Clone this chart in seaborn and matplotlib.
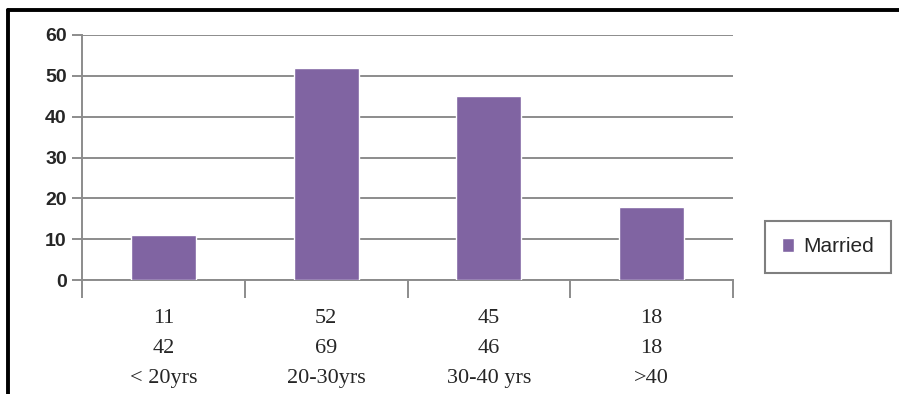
import matplotlib
matplotlib.use("Agg")
import matplotlib.pyplot as plt
import matplotlib.lines as mlines
import pandas as pd
import seaborn as sns

# data
groups = ['< 20yrs', '20-30yrs', '30-40 yrs', '>40']
married = [11, 52, 45, 18]
row2 = [42, 69, 46, 18]
series_name = 'Married'

df = pd.DataFrame({'group': groups, 'count': married})

sns.set_style('white')
fig = plt.figure(figsize=(8.99, 3.94), dpi=100)
ax = fig.add_axes([0.0912, 0.2893, 0.7242, 0.6219])

sns.barplot(data=df, x='group', y='count', color='#8064A2', width=0.4,
            saturation=1, ax=ax, label=series_name, zorder=3)

ax.set_ylim(0, 60)
ax.set_yticks(range(0, 61, 10))
ax.set_xlim(-0.5, len(groups) - 0.5)
ax.yaxis.grid(True, color='#8c8c8c', linewidth=1.4, zorder=0)
for s in ['top', 'right']:
    ax.spines[s].set_visible(False)
ax.spines['left'].set_color('#8c8c8c')
ax.spines['left'].set_linewidth(1.4)
ax.spines['bottom'].set_color('#8c8c8c')
ax.spines['bottom'].set_linewidth(1.4)

ax.tick_params(axis='y', which='major', left=True, length=7, width=1.4,
               color='#8c8c8c', pad=4)
for t in ax.get_yticklabels():
    t.set_fontfamily('Liberation Sans')
    t.set_fontweight('bold')
    t.set_fontsize(14)
    t.set_color('#262626')

# category labels (three lines) under each bar, boundary ticks between
labels = [f'{a}\n{b}\n{c}' for a, b, c in zip(married, row2, groups)]
ax.set_xticks(range(len(groups)))
ax.set_xticklabels(labels, fontfamily='Liberation Serif', fontsize=16,
                   linespacing=1.78)
ax.tick_params(axis='x', which='major', length=0, pad=21)
ax.set_xticks([i - 0.5 for i in range(len(groups) + 1)], minor=True)
ax.tick_params(axis='x', which='minor', bottom=True, length=13, width=1.4,
               color='#8c8c8c')
ax.set_xlabel('')
ax.set_ylabel('')

leg = ax.legend(loc='center left', bbox_to_anchor=(1.033, 0.135),
                fancybox=False, edgecolor='#7f7f7f', framealpha=1,
                prop={'family': 'Liberation Sans', 'size': 15},
                handlelength=0.6, handleheight=0.6, borderpad=0.8,
                handletextpad=0.45)
leg.get_frame().set_linewidth(1.5)

# black frame around the figure (top and left edges)
fig.add_artist(mlines.Line2D([0.0089, 1.0], [0.9746, 0.9746], color='black',
                             linewidth=2.8, transform=fig.transFigure))
fig.add_artist(mlines.Line2D([0.0089, 0.0089], [0.0, 0.9746], color='black',
                             linewidth=2.8, transform=fig.transFigure))

fig.savefig('out.png', dpi=100)
